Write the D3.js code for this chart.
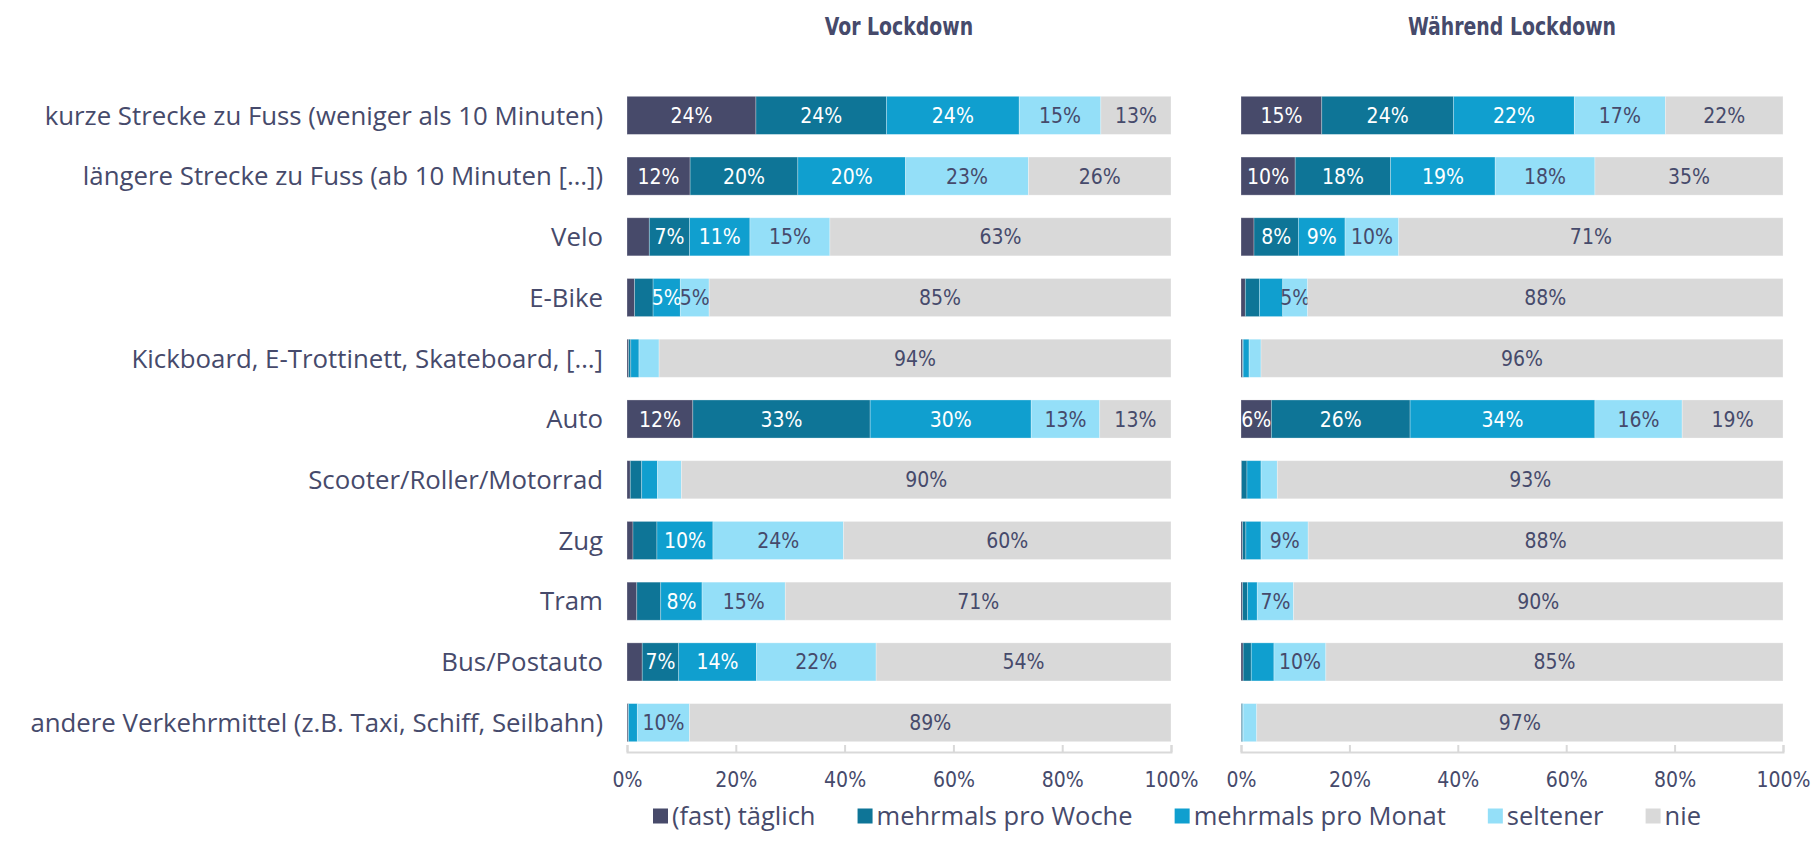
<!DOCTYPE html>
<html>
<head>
<meta charset="utf-8">
<script src="https://cdn.jsdelivr.net/npm/d3@7/dist/d3.min.js"></script>
<style>
  body { margin: 0; background: #fff; }
  svg text {
    font-family: "DejaVu Sans Condensed", "DejaVu Sans", sans-serif;
    font-stretch: condensed;
    fill: #464a6b;
  }
  svg text.cat, svg text.leg {
    font-family: "Open Sans", "Noto Sans", sans-serif;
    font-stretch: normal;
  }
</style>
</head>
<body>
<svg id="chart" width="1813" height="862"></svg>
<script>
const categories = [
  "kurze Strecke zu Fuss (weniger als 10 Minuten)",
  "längere Strecke zu Fuss (ab 10 Minuten […])",
  "Velo",
  "E-Bike",
  "Kickboard, E-Trottinett, Skateboard, […]",
  "Auto",
  "Scooter/Roller/Motorrad",
  "Zug",
  "Tram",
  "Bus/Postauto",
  "andere Verkehrmittel (z.B. Taxi, Schiff, Seilbahn)"
];
const seriesNames = ["(fast) täglich", "mehrmals pro Woche", "mehrmals pro Monat", "seltener", "nie"];
const panelTitles = ["Vor Lockdown", "Während Lockdown"];
const tickValues = [0, 0.2, 0.4, 0.6, 0.8, 1];

// Vor Lockdown (%)
const vorTaeglich  = [23.7, 11.6,  4.1,  1.4,  0.3, 12.1,  0.6,  1.1,  1.8,  2.8,  0.2];
const vorWoche     = [24.0, 19.8,  7.4,  3.4,  0.4, 32.6,  2.1,  4.4,  4.4,  6.7,  0.1];
const vorMonat     = [24.4, 19.8, 11.1,  5.0,  1.5, 29.6,  2.9, 10.3,  7.6, 14.3,  1.6];
const vorSeltener  = [15.0, 22.6, 14.7,  5.3,  3.7, 12.6,  4.4, 24.0, 15.3, 22.0,  9.6];
const vorNie       = [12.9, 26.2, 62.7, 84.9, 94.1, 13.1, 90.0, 60.2, 70.9, 54.2, 88.6];

// Während Lockdown (%)
const whrTaeglich  = [14.9, 10.0,  2.4,  0.8,  0.3,  5.6,  0.1,  0.3,  0.3,  0.4,  0.1];
const whrWoche     = [24.3, 17.6,  8.2,  2.6,  0.1, 25.6,  1.0,  0.6,  0.9,  1.5,  0.2];
const whrMonat     = [22.3, 19.3,  8.6,  4.3,  1.1, 34.1,  2.6,  2.8,  1.8,  4.2,  0.1];
const whrSeltener  = [16.8, 18.4,  9.9,  4.6,  2.2, 16.1,  3.0,  8.7,  6.7,  9.6,  2.5];
const whrNie       = [21.7, 34.7, 70.9, 87.7, 96.3, 18.6, 93.3, 87.6, 90.3, 84.6, 97.1];

const colors = ["#474a6a", "#0e7597", "#109fcf", "#94dff8", "#d9d9d9"];
const labelColors = ["#ffffff", "#ffffff", "#ffffff", "#464a6b", "#464a6b"];

function toRows(cols) {
  return categories.map((c, i) => {
    const r = { cat: c };
    seriesNames.forEach((s, j) => r[s] = cols[j][i]);
    return r;
  });
}

const panels = [
  { title: panelTitles[0], rows: toRows([vorTaeglich, vorWoche, vorMonat, vorSeltener, vorNie]), x0: 627, x1: 1171 },
  { title: panelTitles[1], rows: toRows([whrTaeglich, whrWoche, whrMonat, whrSeltener, whrNie]), x0: 1241, x1: 1783 }
];

const svg = d3.select("#chart");
const axisY = 752;

const y = d3.scaleBand()
  .domain(categories)
  .range([86, axisY])
  .paddingInner(0.373)
  .paddingOuter(0.17);

const stack = d3.stack()
  .keys(seriesNames)
  .offset(d3.stackOffsetExpand);

const fmt = d3.format(".0f");

// category labels
svg.append("g")
  .selectAll("text")
  .data(categories)
  .join("text")
    .attr("class", "cat")
    .attr("x", 603)
    .attr("y", d => y(d) + y.bandwidth() / 2)
    .attr("dy", "0.36em")
    .attr("text-anchor", "end")
    .style("font-size", "25.8px")
    .text(d => d);

panels.forEach(p => {
  const x = d3.scaleLinear().domain([0, 1]).range([p.x0, p.x1]);
  const series = stack(p.rows);

  // narrow, tall bold title
  svg.append("text")
    .attr("transform", `translate(${(p.x0 + p.x1) / 2},35) scale(0.84,1)`)
    .attr("text-anchor", "middle")
    .style("font-size", "25px")
    .style("font-weight", "bold")
    .text(p.title);

  const g = svg.append("g");

  const layer = g.selectAll("g.layer")
    .data(series)
    .join("g")
      .attr("class", "layer")
      .attr("fill", (d, i) => colors[i]);

  layer.selectAll("rect")
    .data(d => d)
    .join("rect")
      .attr("x", d => x(d[0]))
      .attr("y", d => y(d.data.cat))
      .attr("width", d => x(d[1]) - x(d[0]))
      .attr("height", y.bandwidth())
      .attr("stroke", "#ffffff")
      .attr("stroke-opacity", 0.35)
      .attr("stroke-width", 0.8);

  layer.each(function(s, i) {
    d3.select(this).selectAll("text")
      .data(s.filter(d => Math.round(d.data[s.key]) >= 5))
      .join("text")
        .attr("x", d => (x(d[0]) + x(d[1])) / 2)
        .attr("y", d => y(d.data.cat) + y.bandwidth() / 2)
        .attr("dy", "0.36em")
        .attr("text-anchor", "middle")
        .style("font-size", "21px")
        .style("fill", labelColors[i])
        .text(d => fmt(d.data[s.key]) + "%");
  });

  const axis = g.append("g")
    .attr("transform", `translate(0,${axisY})`)
    .call(d3.axisBottom(x)
      .tickValues(tickValues)
      .tickFormat(d3.format(".0%"))
      .tickSize(-7)
      .tickPadding(20));
  axis.select(".domain").attr("stroke", "#d9d9d9").attr("stroke-width", 2);
  axis.selectAll(".tick line").attr("stroke", "#d9d9d9").attr("stroke-width", 2);
  axis.selectAll(".tick text")
    .attr("fill", null)
    .style("font-size", "21px");
});

// legend
const legend = svg.append("g").attr("transform", "translate(0,816)");
const items = legend.selectAll("g")
  .data(seriesNames)
  .join("g");
items.append("rect")
  .attr("y", -7.5)
  .attr("width", 15)
  .attr("height", 15)
  .attr("fill", (d, i) => colors[i]);
items.append("text")
  .attr("class", "leg")
  .attr("x", 19)
  .attr("dy", "0.36em")
  .style("font-size", "25.5px")
  .text(d => d);

const widths = [];
items.each(function() { widths.push(19 + this.querySelector("text").getComputedTextLength()); });
const legendStart = 653, legendEnd = 1701;
const gap = (legendEnd - legendStart - d3.sum(widths)) / (widths.length - 1);
let cx = legendStart;
items.attr("transform", (d, i) => {
  const t = `translate(${cx},0)`;
  cx += widths[i] + gap;
  return t;
});
</script>
</body>
</html>
